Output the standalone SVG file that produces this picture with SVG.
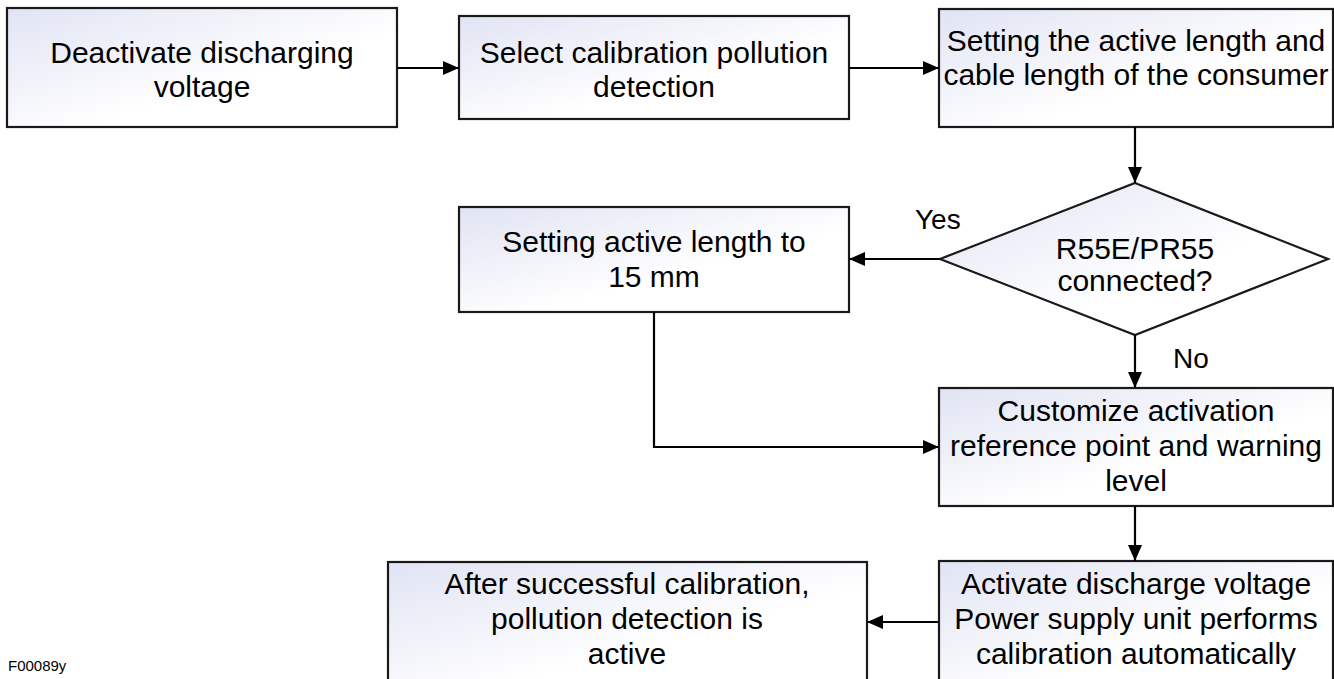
<svg xmlns="http://www.w3.org/2000/svg" width="1334" height="679" viewBox="0 0 1334 679">
<defs>
<linearGradient id="g" x1="0" y1="0" x2="1" y2="1">
<stop offset="0" stop-color="#e0e3f3"/>
<stop offset="0.6" stop-color="#ffffff"/>
<stop offset="1" stop-color="#ffffff"/>
</linearGradient>
<marker id="ah" viewBox="0 0 16 14" refX="16" refY="7" markerWidth="16" markerHeight="15" markerUnits="userSpaceOnUse" orient="auto">
<path d="M0,0 L16,7 L0,14 Z" fill="#000"/>
</marker>
<style>
.box{fill:url(#g);stroke:#1a1a1a;stroke-width:2.2}
.t{font-family:"Liberation Sans",Arial,sans-serif;font-size:30px;fill:#000;text-anchor:middle}
.lbl{font-family:"Liberation Sans",Arial,sans-serif;font-size:28px;fill:#000}
.c{fill:none;stroke:#000;stroke-width:2.2;marker-end:url(#ah)}
</style>
</defs>
<rect width="1334" height="679" fill="#fff"/>
<g id="n1"><rect class="box" x="7" y="8" width="390" height="119"/>
<text class="t" x="202" y="63">Deactivate discharging</text>
<text class="t" x="202" y="97">voltage</text></g>
<g id="n2"><rect class="box" x="459" y="16" width="390" height="103"/>
<text class="t" x="654" y="63">Select calibration pollution</text>
<text class="t" x="654" y="97">detection</text></g>
<g id="n3"><rect class="box" x="939" y="9" width="394" height="118"/>
<text class="t" x="1136" y="51">Setting the active length and</text>
<text class="t" x="1136" y="85">cable length of the consumer</text></g>
<g id="n4"><polygon class="box" points="1135,183 1328,259 1135,335 940,259"/>
<text class="t" x="1135" y="259">R55E/PR55</text>
<text class="t" x="1135" y="291">connected?</text></g>
<g id="n5"><rect class="box" x="459" y="207" width="390" height="105"/>
<text class="t" x="654" y="252">Setting active length to</text>
<text class="t" x="654" y="287">15 mm</text></g>
<g id="n6"><rect class="box" x="939" y="388" width="394" height="118"/>
<text class="t" x="1136" y="421">Customize activation</text>
<text class="t" x="1136" y="456">reference point and warning</text>
<text class="t" x="1136" y="491">level</text></g>
<g id="n7"><rect class="box" x="939" y="561" width="394" height="130"/>
<text class="t" x="1136" y="594">Activate discharge voltage</text>
<text class="t" x="1136" y="629">Power supply unit performs</text>
<text class="t" x="1136" y="664">calibration automatically</text></g>
<g id="n8"><rect class="box" x="388" y="562" width="479" height="130"/>
<text class="t" x="627" y="594">After successful calibration,</text>
<text class="t" x="627" y="629">pollution detection is</text>
<text class="t" x="627" y="664">active</text></g>
<g id="connectors">
<line class="c" x1="397" y1="68" x2="459" y2="68"/>
<line class="c" x1="849" y1="68" x2="939" y2="68"/>
<line class="c" x1="1135" y1="127" x2="1135" y2="183"/>
<line class="c" x1="940" y1="259" x2="849" y2="259"/>
<line class="c" x1="1135" y1="335" x2="1135" y2="388"/>
<polyline class="c" points="654,312 654,447 939,447"/>
<line class="c" x1="1135" y1="506" x2="1135" y2="561"/>
<line class="c" x1="939" y1="622" x2="867" y2="622"/>
</g>
<g id="labels">
<text class="lbl" x="915" y="229">Yes</text>
<text class="lbl" x="1173" y="368">No</text>
<text x="8" y="671" style="font-family:'Liberation Sans',Arial,sans-serif;font-size:15px;fill:#000">F00089y</text>
</g>
</svg>
